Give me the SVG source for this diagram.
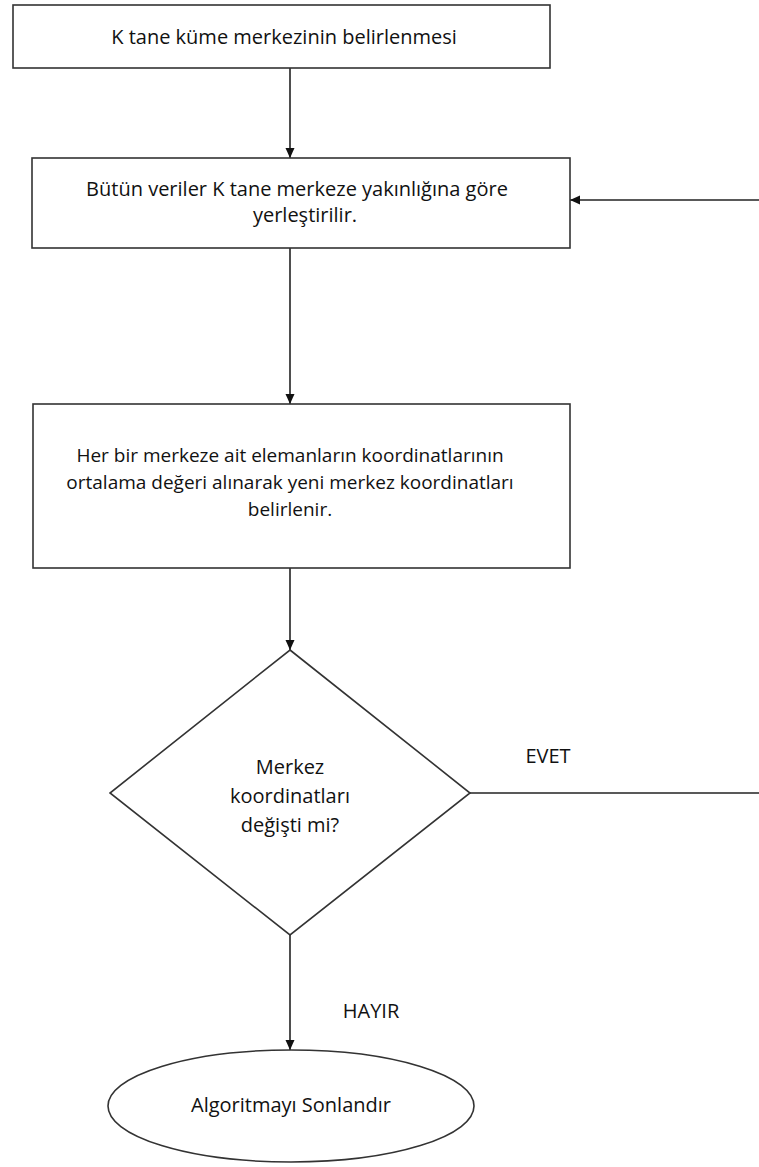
<svg xmlns="http://www.w3.org/2000/svg" width="759" height="1167" viewBox="0 0 759 1167">
<defs>
<marker id="ah" markerWidth="10" markerHeight="10" refX="10" refY="5" orient="auto" markerUnits="userSpaceOnUse">
<path d="M0,0.5 L10,5 L0,9.5 Z" fill="#111"/>
</marker>
<style>
.box{fill:#fff;stroke:#333;stroke-width:1.6}
.t{font-family:"Open Sans","Liberation Sans",sans-serif;font-size:20px;fill:#111;text-anchor:middle}
.s{font-size:19px}
.c{stroke:#222;stroke-width:1.6;fill:none}
</style>
</defs>
<rect width="759" height="1167" fill="#fff"/>
<g id="connectors">
<line class="c" x1="290" y1="68" x2="290" y2="158" marker-end="url(#ah)"/>
<line class="c" x1="759" y1="200" x2="570" y2="200" marker-end="url(#ah)"/>
<line class="c" x1="290" y1="248" x2="290" y2="404" marker-end="url(#ah)"/>
<line class="c" x1="290" y1="568" x2="290" y2="650" marker-end="url(#ah)"/>
<line class="c" x1="470" y1="793" x2="759" y2="793"/>
<line class="c" x1="290" y1="935" x2="290" y2="1050" marker-end="url(#ah)"/>
<text class="t" x="548" y="763">EVET</text>
<text class="t" x="371" y="1018">HAYIR</text>
</g>
<g id="n1">
<rect class="box" x="13" y="5" width="537" height="63"/>
<text class="t" x="284" y="44">K tane küme merkezinin belirlenmesi</text>
</g>
<g id="n2">
<rect class="box" x="32" y="158" width="538" height="90"/>
<text class="t" x="297" y="196">Bütün veriler K tane merkeze yakınlığına göre</text>
<text class="t" x="305" y="222">yerleştirilir.</text>
</g>
<g id="n3">
<rect class="box" x="33" y="404" width="537" height="164"/>
<text class="t s" x="290" y="462">Her bir merkeze ait elemanların koordinatlarının</text>
<text class="t s" x="290" y="489">ortalama değeri alınarak yeni merkez koordinatları</text>
<text class="t s" x="290" y="516">belirlenir.</text>
</g>
<g id="n4">
<polygon class="box" points="290,650 470,793 290,935 110,793"/>
<text class="t" x="290" y="774">Merkez</text>
<text class="t" x="290" y="803">koordinatları</text>
<text class="t" x="290" y="832">değişti mi?</text>
</g>
<g id="n5">
<ellipse class="box" cx="291" cy="1106" rx="183" ry="56"/>
<text class="t" x="291" y="1112">Algoritmayı Sonlandır</text>
</g>
</svg>
